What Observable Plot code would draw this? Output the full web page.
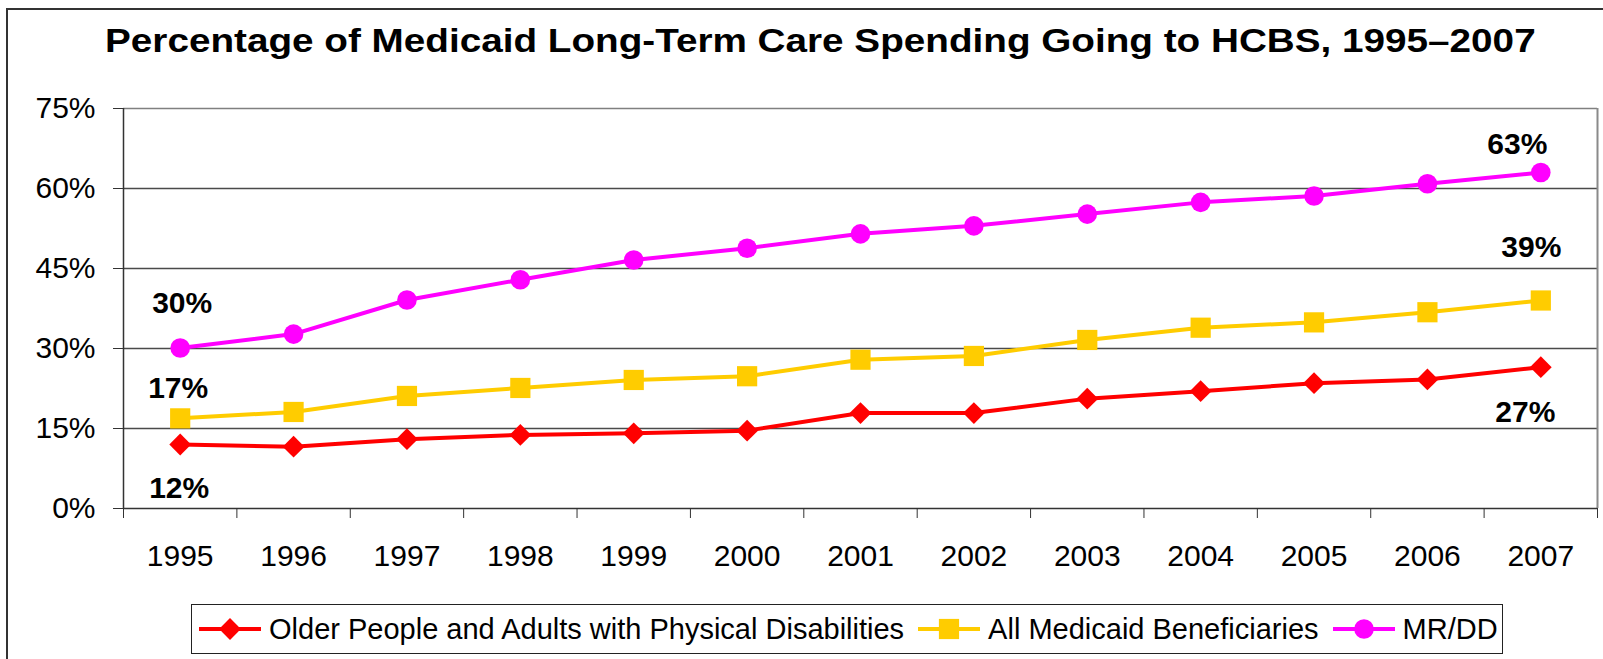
<!DOCTYPE html>
<html>
<head>
<meta charset="utf-8">
<script src="https://cdn.jsdelivr.net/npm/d3@7"></script>
<script src="https://cdn.jsdelivr.net/npm/@observablehq/plot@0.6"></script>
<style>
  html, body { margin: 0; padding: 0; background: #fff; }
  body { width: 1603px; height: 659px; overflow: hidden; position: relative;
         font-family: "Liberation Sans", Arial, sans-serif; color: #000; }
  #frame { position: absolute; left: 6px; top: 8px; width: 1640px; height: 720px;
           border: 2px solid #333; box-sizing: border-box; }
  #title { position: absolute; left: 0; top: 23px; width: 1640px; text-align: center;
           font-weight: bold; font-size: 33px; line-height: 36px; white-space: nowrap; }
  #title span { display: inline-block; transform: scaleX(1.172); transform-origin: 50% 50%; }
  #chart { position: absolute; left: 0; top: 75px; }
  #legend { position: absolute; left: 191px; top: 604px; width: 1312px; height: 50px;
            border: 1.5px solid #222; box-sizing: border-box; display: flex; align-items: center;
            padding-left: 7px; font-size: 29px; white-space: nowrap; }
  .item { display: flex; align-items: center; margin-right: 14px; }
  .item svg { margin-right: 8px; }
</style>
</head>
<body>
<div id="frame"></div>
<div id="title"><span>Percentage of Medicaid Long-Term Care Spending Going to HCBS, 1995–2007</span></div>
<div id="chart"></div>
<div id="legend"></div>
<script>
// ---- data ----
const years = [1995, 1996, 1997, 1998, 1999, 2000, 2001, 2002, 2003, 2004, 2005, 2006, 2007];
const olderAdults = [12.0, 11.6, 13.0, 13.8, 14.1, 14.6, 17.9, 17.9, 20.6, 22.0, 23.5, 24.2, 26.5];
const allBeneficiaries = [16.9, 18.1, 21.1, 22.6, 24.1, 24.8, 27.9, 28.6, 31.6, 33.9, 34.9, 36.8, 39.0];
const mrdd = [30.1, 32.7, 39.1, 42.9, 46.6, 48.8, 51.5, 53.0, 55.2, 57.4, 58.6, 60.9, 63.0];
const seriesNames = ["Older People and Adults with Physical Disabilities", "All Medicaid Beneficiaries", "MR/DD"];
const yTicks = [0, 15, 30, 45, 60, 75];

// ---- styles ----
const seriesStyle = [
  { values: olderAdults, color: "#FF0000", symbol: "diamond2", r: 9.8 },
  { values: allBeneficiaries, color: "#FFCC00", symbol: "square", r: 11.4 },
  { values: mrdd, color: "#FF00FF", symbol: "circle", r: 9.8 }
];

const series = seriesStyle.map((s, k) => ({
  ...s,
  name: seriesNames[k],
  rows: years.map((yr, i) => ({ year: yr, value: s.values[i] }))
}));

const boundaries = years.map(y => y - 0.5).concat([years[years.length - 1] + 0.5]);
const xDomain = [boundaries[0], boundaries[boundaries.length - 1]];

function endLabel(s, idx, dx, dy) {
  const d = s.rows[idx];
  return Plot.text([d], {
    x: "year", y: "value", text: r => Math.round(r.value) + "%",
    dx, dy, fontWeight: "bold", fontSize: 30, fill: "#000", textAnchor: "middle"
  });
}

const marks = [
  Plot.ruleY([15, 30, 45, 60], { stroke: "#4a4a4a", strokeWidth: 1.3 }),
  Plot.ruleY([75], { stroke: "#808080", strokeWidth: 1.6 }),
  Plot.ruleX([xDomain[1]], { stroke: "#8a8a8a", strokeWidth: 2 }),
  Plot.ruleY([0], { stroke: "#333", strokeWidth: 1.5 }),
  Plot.ruleX([xDomain[0]], { stroke: "#333", strokeWidth: 1.5 }),
  Plot.axisY({ ticks: yTicks, tickSize: 10, tickPadding: 18, tickFormat: d => d + "%", label: null, fontSize: 30, stroke: "#333" }),
  Plot.axisX({ ticks: boundaries, tickSize: 10, tickFormat: () => "", label: null, stroke: "#333" }),
  Plot.axisX({ ticks: years, tickSize: 0, tickPadding: 36, tickFormat: d => String(d), label: null, fontSize: 30 })
];

for (const s of series) {
  marks.push(Plot.line(s.rows, { x: "year", y: "value", stroke: s.color, strokeWidth: 4 }));
  marks.push(Plot.dot(s.rows, { x: "year", y: "value", symbol: s.symbol, r: s.r, fill: s.color, stroke: "none" }));
}

const last = years.length - 1;
marks.push(endLabel(series[2], 0, 2, -45));
marks.push(endLabel(series[1], 0, -2, -29.5));
marks.push(endLabel(series[0], 0, -1, 43.4));
marks.push(endLabel(series[2], last, -23.5, -28.6));
marks.push(endLabel(series[1], last, -9.5, -53.6));
marks.push(endLabel(series[0], last, -15.5, 45.4));

const chart = Plot.plot({
  width: 1603,
  height: 515,
  marginLeft: 123,
  marginRight: 6,
  marginTop: 33,
  marginBottom: 82,
  style: { fontFamily: "'Liberation Sans', Arial, sans-serif", fontSize: "30px", color: "#000", background: "transparent", overflow: "visible" },
  x: { type: "linear", domain: xDomain },
  y: { domain: [yTicks[0], yTicks[yTicks.length - 1]] },
  marks
});
document.getElementById("chart").appendChild(chart);

// ---- legend ----
const legend = d3.select("#legend");
for (const s of series) {
  const item = legend.append("div").attr("class", "item");
  const svg = item.append("svg").attr("width", 62).attr("height", 30);
  svg.append("line").attr("x1", 0).attr("x2", 62).attr("y1", 15).attr("y2", 15)
    .attr("stroke", s.color).attr("stroke-width", 4);
  const sym = { diamond2: d3.symbolDiamond2, square: d3.symbolSquare, circle: d3.symbolCircle }[s.symbol];
  svg.append("path").attr("transform", "translate(31,15)")
    .attr("d", d3.symbol(sym, Math.PI * s.r * s.r)()).attr("fill", s.color);
  item.append("span").text(s.name);
}
</script>
</body>
</html>
